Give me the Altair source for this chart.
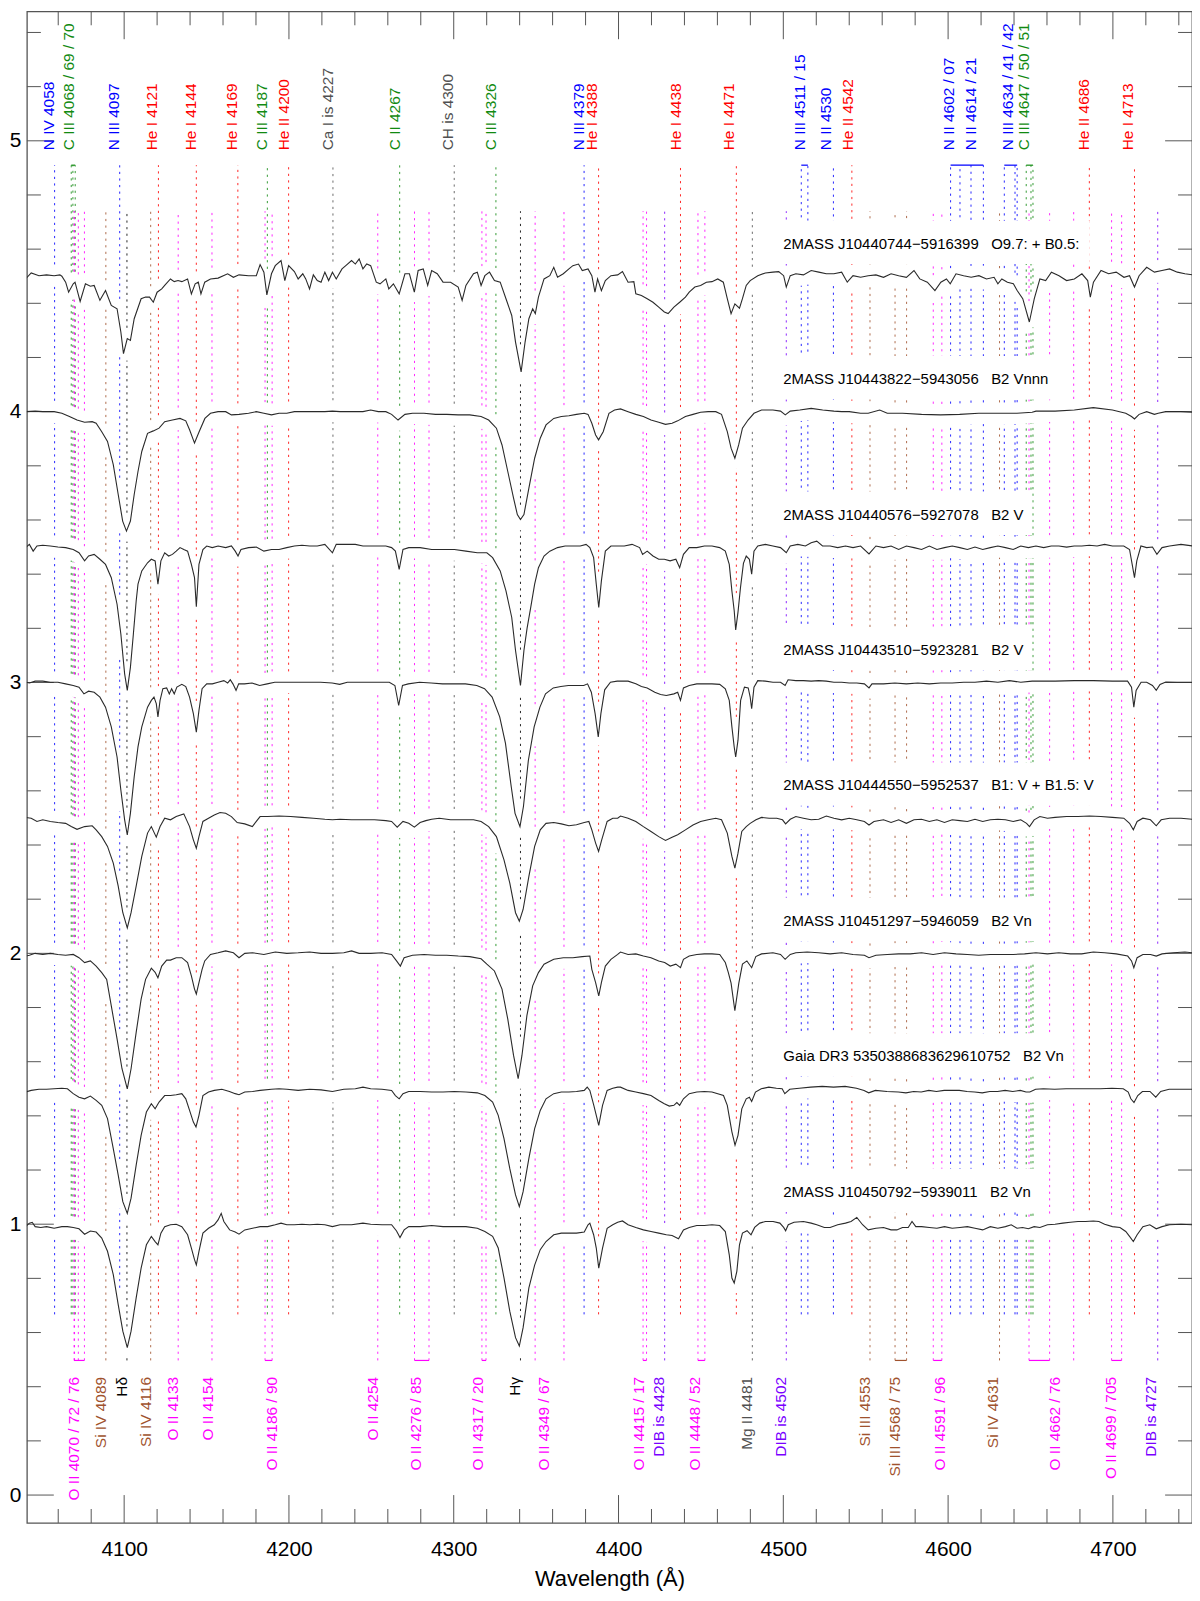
import altair as alt
import numpy as np
import pandas as pd

FONT = "Liberation Sans"

# ---------------- spectra: (wavelength in Å, normalised flux) ----------------
S1 = [(4040.2,0.990),(4043.6,1.012),(4048.3,1.002),(4052.9,1.005),(4057.5,1.002),(4061.0,1.005),(4062.2,1.000),(4064.5,0.978),(4066.3,0.941),(4069.1,0.972),(4070.2,0.978),(4073.3,0.907),(4076.5,0.972),(4079.5,0.963),(4081.8,0.966),(4085.3,0.911),(4088.7,0.947),(4092.2,0.892),(4095.7,0.880),(4098.0,0.794),(4099.6,0.714),(4101.9,0.770),(4103.8,0.763),(4106.1,0.843),(4110.3,0.917),(4113.0,0.923),(4115.4,0.923),(4117.7,0.904),(4120.0,0.941),(4122.8,0.953),(4124.6,0.966),(4128.1,0.990),(4130.4,0.980),(4132.7,0.984),(4135.0,0.980),(4138.5,0.990),(4140.8,0.935),(4143.1,0.972),(4145.0,0.978),(4146.6,0.935),(4148.9,0.978),(4152.4,0.990),(4157.0,0.993),(4162.8,1.009),(4166.3,0.996),(4169.7,1.005),(4175.5,1.002),(4180.2,1.002),(4182.5,1.043),(4184.8,1.015),(4186.6,0.931),(4189.4,1.009),(4191.7,1.039),(4195.2,1.058),(4197.5,0.984),(4199.8,1.039),(4203.3,1.017),(4205.6,0.990),(4208.4,1.009),(4210.2,0.990),(4212.5,0.953),(4214.8,1.005),(4217.2,0.984),(4219.5,0.978),(4221.8,1.015),(4224.1,0.984),(4226.4,1.015),(4228.7,0.990),(4232.2,1.027),(4234.5,1.039),(4238.0,1.058),(4240.3,1.045),(4242.6,1.064),(4244.9,1.027),(4247.2,1.045),(4249.6,1.039),(4253.0,0.978),(4255.3,0.972),(4258.8,0.990),(4260.6,0.953),(4263.4,0.972),(4266.9,0.935),(4270.4,1.009),(4273.1,1.009),(4276.1,0.941),(4278.4,1.021),(4281.5,1.027),(4284.2,0.966),(4286.6,1.021),(4290.0,1.009),(4293.5,0.978),(4298.1,0.978),(4302.7,0.960),(4305.1,0.911),(4307.4,0.966),(4312.0,1.009),(4314.3,1.015),(4316.6,0.966),(4318.9,1.002),(4321.7,1.015),(4324.7,0.984),(4328.2,0.978),(4331.7,0.917),(4335.2,0.855),(4337.5,0.757),(4340.9,0.647),(4343.3,0.757),(4345.6,0.843),(4347.9,0.880),(4349.5,0.862),(4351.4,0.923),(4354.8,0.990),(4358.3,1.002),(4360.7,1.033),(4363.0,0.996),(4366.5,1.009),(4369.9,1.027),(4372.3,1.039),(4375.7,1.045),(4378.0,1.021),(4381.5,1.027),(4383.8,1.002),(4385.7,0.941),(4387.3,0.990),(4389.6,0.947),(4392.0,0.984),(4395.4,1.002),(4399.5,1.005),
      (4402.4,1.017),(4405.8,0.978),(4409.3,0.980),(4410.5,0.935),(4413.9,0.929),(4417.4,0.917),(4420.9,0.904),(4424.4,0.886),(4427.8,0.868),(4430.1,0.862),(4433.6,0.886),(4437.1,0.904),(4440.6,0.923),(4442.9,0.941),(4446.3,0.960),(4449.8,0.966),(4453.3,0.978),(4456.7,0.980),(4460.2,0.990),(4463.6,0.978),(4466.0,0.917),(4468.3,0.862),(4470.6,0.898),(4473.4,0.882),(4475.2,0.917),(4477.5,0.966),(4479.9,0.984),(4484.5,1.002),(4489.1,1.012),(4493.7,1.015),(4497.2,1.017),(4500.2,1.002),(4501.8,0.960),(4504.2,1.002),(4507.6,1.009),(4512.2,1.005),(4516.9,1.021),(4521.5,1.015),(4526.1,1.009),(4530.7,1.009),(4535.4,1.015),(4538.8,0.978),(4542.3,1.002),(4546.9,0.996),(4551.5,1.002),(4556.2,1.005),(4560.8,0.996),(4565.4,1.009),(4570.0,1.002),(4574.7,0.996),(4579.3,1.021),(4582.8,0.990),(4587.4,0.978),(4592.0,0.947),(4595.6,0.978),(4599.0,0.990),(4601.3,0.972),(4604.8,1.009),(4609.4,1.002),(4614.0,0.996),(4618.7,1.002),(4623.3,0.990),(4627.9,0.996),(4630.2,0.972),(4632.6,0.990),(4636.0,0.978),(4639.6,0.972),(4641.9,0.947),(4645.3,0.917),(4649.3,0.831),(4652.3,0.917),(4655.7,0.990),(4659.2,0.984),(4662.7,1.015),(4667.3,1.002),(4671.9,0.984),(4676.6,0.990),(4681.2,1.009),(4684.7,0.984),(4686.3,0.923),(4688.2,0.978),(4692.8,1.021),(4697.4,1.009),(4702.0,1.015),(4706.7,0.996),(4710.1,1.002),(4713.1,0.960),(4715.9,1.002),(4720.5,1.033),(4725.2,1.015),(4729.8,1.021),(4734.4,1.027),(4739.1,1.015),(4743.7,1.009),(4748.3,1.005)]

S2 = [(4040.2,1.000),(4046.0,1.002),(4050.6,1.000),(4057.5,1.000),(4062.2,0.994),(4066.8,0.982),(4071.4,0.969),(4076.0,0.961),(4080.6,0.963),(4083.0,0.957),(4086.4,0.926),(4089.9,0.890),(4093.4,0.804),(4096.4,0.694),(4099.1,0.596),(4101.4,0.559),(4103.8,0.596),(4106.1,0.694),(4108.4,0.779),(4110.7,0.853),(4114.2,0.920),(4117.7,0.929),(4121.2,0.939),(4124.6,0.963),(4129.3,0.969),(4133.9,0.975),(4137.4,0.966),(4139.7,0.933),(4142.7,0.884),(4145.5,0.926),(4149.0,0.975),(4152.4,0.994),(4157.0,1.000),(4161.6,1.000),(4165.1,0.988),(4169.7,0.990),(4175.5,0.994),(4180.2,1.000),(4184.8,0.994),(4189.4,0.988),(4194.0,0.994),(4198.7,0.994),(4203.3,1.000),(4210.2,1.000),(4217.2,1.000),(4221.8,1.000),(4226.4,1.002),(4231.0,1.000),(4238.0,1.000),(4244.9,1.000),(4249.6,1.006),(4254.2,1.000),(4258.8,1.000),(4262.3,0.990),(4266.2,0.969),(4270.4,0.990),(4275.0,0.994),(4281.9,0.994),(4288.9,0.990),(4295.8,0.990),(4302.7,0.988),(4309.7,0.988),(4316.6,0.982),(4321.2,0.969),(4325.9,0.939),(4329.3,0.877),(4332.8,0.779),(4336.3,0.681),(4338.6,0.620),(4340.5,0.602),(4342.6,0.620),(4345.6,0.718),(4349.1,0.828),(4352.5,0.902),(4356.0,0.951),(4360.7,0.975),(4365.3,0.982),(4369.9,0.985),(4374.5,0.990),(4379.2,0.994),(4381.5,0.990),(4383.8,0.957),(4386.1,0.914),(4387.9,0.896),(4390.7,0.926),(4394.2,0.994),(4397.6,1.006),
      (4401.2,1.010),(4405.8,1.000),(4410.5,0.990),(4415.1,0.982),(4419.7,0.969),(4424.4,0.961),(4428.5,0.953),(4432.5,0.957),(4435.9,0.966),(4440.6,0.982),(4445.2,0.990),(4449.8,0.998),(4454.4,1.000),(4459.0,1.000),(4462.5,0.990),(4466.0,0.926),(4468.3,0.865),(4470.6,0.828),(4472.9,0.877),(4475.2,0.939),(4478.6,0.969),(4482.2,0.994),(4486.8,1.006),(4493.7,1.006),(4498.3,1.002),(4501.2,0.988),(4504.2,1.002),(4510.0,1.006),(4516.9,1.012),(4523.9,1.006),(4530.7,1.002),(4535.4,1.000),(4540.0,1.000),(4546.9,0.994),(4551.5,0.994),(4558.5,1.006),(4563.1,0.994),(4572.3,0.994),(4583.9,0.990),(4595.4,0.988),(4607.0,0.990),(4618.6,0.994),(4630.2,0.994),(4641.8,0.994),(4651.0,0.998),(4653.3,1.002),(4664.9,1.002),(4676.6,1.006),(4688.1,1.015),(4699.7,1.006),(4707.8,0.994),(4711.3,0.982),(4713.1,0.973),(4715.9,0.990),(4720.5,1.000),(4725.2,0.990),(4727.5,0.994),(4732.1,1.000),(4741.3,1.000),(4748.3,0.998)]

S3 = [(4040.2,0.998),(4042.5,1.010),(4044.8,0.985),(4047.1,1.004),(4050.6,1.007),(4055.2,1.004),(4059.8,1.000),(4064.5,0.998),(4069.1,0.991),(4072.6,0.979),(4076.0,0.949),(4078.4,0.967),(4081.8,0.973),(4085.3,0.955),(4088.7,0.936),(4092.2,0.887),(4095.7,0.789),(4098.0,0.679),(4100.3,0.532),(4101.9,0.471),(4103.8,0.556),(4105.6,0.679),(4107.3,0.801),(4108.4,0.863),(4110.7,0.912),(4114.2,0.942),(4116.5,0.955),(4118.8,0.949),(4120.5,0.863),(4122.3,0.949),(4124.6,0.979),(4127.0,0.967),(4129.3,0.973),(4131.6,0.985),(4133.9,0.998),(4136.2,0.991),(4138.5,0.985),(4140.8,0.936),(4142.7,0.887),(4143.8,0.780),(4145.4,0.936),(4147.8,0.991),(4150.1,1.004),(4153.5,0.998),(4157.0,1.004),(4161.6,0.998),(4165.1,1.004),(4167.4,0.985),(4169.1,0.967),(4170.9,0.991),(4175.5,0.998),(4180.2,1.000),(4184.8,0.985),(4189.4,0.991),(4194.0,0.991),(4198.7,0.998),(4203.3,1.004),(4207.9,1.007),(4212.6,1.004),(4217.2,1.004),(4221.8,1.010),(4226.4,0.979),(4228.7,1.010),(4235.7,1.010),(4240.3,1.010),(4244.9,1.004),(4249.6,1.004),(4254.2,1.004),(4258.8,1.004),(4262.3,0.998),(4264.6,0.985),(4266.9,0.918),(4269.2,0.991),(4272.7,0.998),(4279.6,0.998),(4286.6,0.991),(4293.5,0.991),(4300.4,0.991),(4307.4,0.985),(4314.3,0.979),(4320.1,0.979),(4323.6,0.961),(4328.2,0.912),(4331.7,0.838),(4335.2,0.740),(4337.5,0.618),(4340.5,0.489),(4342.6,0.618),(4344.5,0.700),(4346.8,0.780),(4349.1,0.863),(4351.4,0.924),(4354.8,0.967),(4358.3,0.985),(4363.0,0.998),(4367.6,1.004),(4376.8,1.004),(4380.3,1.010),(4382.6,0.998),(4384.9,0.961),(4386.5,0.863),(4388.0,0.777),(4389.6,0.875),(4392.0,0.985),(4395.4,1.004),(4399.5,1.004),
      (4403.5,1.004),(4408.2,1.010),(4412.8,0.998),(4414.6,0.973),(4417.4,0.985),(4420.9,0.967),(4424.4,0.955),(4427.8,0.955),(4431.3,0.949),(4434.8,0.955),(4437.1,0.924),(4439.4,0.973),(4442.9,0.998),(4447.5,0.998),(4452.1,1.004),(4456.7,1.004),(4461.4,0.998),(4464.8,0.985),(4467.2,0.936),(4468.8,0.838),(4470.2,0.765),(4471.1,0.694),(4472.5,0.760),(4474.0,0.850),(4475.8,0.940),(4477.5,0.967),(4479.4,0.955),(4480.8,0.900),(4482.2,0.985),(4484.5,1.004),(4489.1,1.010),(4493.7,1.004),(4498.3,0.998),(4501.8,0.979),(4504.2,1.004),(4508.8,1.010),(4513.4,1.004),(4516.9,1.016),(4520.3,1.022),(4523.8,1.004),(4528.4,1.004),(4533.0,0.998),(4537.7,1.004),(4542.3,0.998),(4546.9,1.004),(4552.0,0.975),(4556.2,1.004),(4560.8,0.998),(4565.4,1.004),(4570.0,0.991),(4574.7,1.004),(4579.3,0.998),(4583.9,0.991),(4588.6,1.004),(4593.2,0.991),(4597.8,0.998),(4602.5,1.004),(4607.1,0.998),(4611.7,0.991),(4616.3,1.000),(4621.0,0.991),(4625.6,0.998),(4630.2,1.004),(4634.8,0.998),(4639.5,0.991),(4644.1,1.004),(4648.7,0.998),(4653.3,1.004),(4658.0,0.998),(4662.6,1.004),(4667.2,1.004),(4671.9,1.000),(4676.5,1.004),(4681.1,1.004),(4685.7,1.007),(4690.4,1.004),(4695.0,1.010),(4699.7,1.004),(4706.6,1.004),(4710.1,0.991),(4711.7,0.936),(4713.1,0.887),(4714.5,0.949),(4717.0,1.004),(4720.5,0.998),(4724.0,1.000),(4726.7,0.973),(4729.8,0.998),(4734.4,1.004),(4741.3,1.010),(4748.3,1.004)]

S4 = [(4040.2,1.001),(4042.5,0.998),(4046.0,1.005),(4050.6,1.005),(4055.2,1.001),(4059.8,1.001),(4064.5,0.995),(4069.1,0.989),(4072.6,0.983),(4075.6,0.958),(4078.4,0.968),(4081.8,0.964),(4085.3,0.946),(4088.7,0.909),(4092.2,0.836),(4095.7,0.725),(4098.0,0.603),(4100.3,0.493),(4101.9,0.437),(4103.8,0.517),(4106.1,0.652),(4108.4,0.762),(4110.7,0.836),(4114.2,0.909),(4116.5,0.934),(4118.1,0.946),(4119.5,0.922),(4120.5,0.873),(4121.8,0.934),(4123.5,0.977),(4125.8,0.980),(4127.4,0.958),(4128.8,0.977),(4130.4,0.958),(4132.0,0.983),(4135.0,0.993),(4137.4,0.985),(4139.7,0.946),(4142.0,0.885),(4143.8,0.817),(4145.4,0.897),(4147.3,0.977),(4150.1,0.995),(4153.5,0.995),(4157.0,1.001),(4160.5,1.007),(4162.8,0.998),(4164.4,1.010),(4166.0,0.995),(4167.9,0.971),(4169.5,0.995),(4173.0,0.995),(4177.6,0.998),(4182.2,0.989),(4186.8,0.995),(4191.4,1.001),(4198.4,1.001),(4205.4,1.001),(4212.3,1.001),(4219.2,1.001),(4226.2,0.998),(4230.8,0.993),(4235.4,1.001),(4242.4,1.001),(4249.3,1.001),(4256.2,1.001),(4260.9,1.001),(4264.3,0.989),(4266.6,0.915),(4268.9,0.989),(4272.4,0.995),(4279.3,1.001),(4286.3,0.998),(4293.2,0.995),(4300.2,0.995),(4307.1,0.995),(4314.0,0.989),(4318.7,0.977),(4323.3,0.946),(4327.9,0.873),(4331.4,0.775),(4334.9,0.615),(4337.2,0.517),(4340.2,0.468),(4342.3,0.542),(4345.3,0.713),(4348.8,0.836),(4352.3,0.909),(4355.7,0.958),(4360.4,0.980),(4365.0,0.985),(4369.6,0.989),(4374.2,0.989),(4378.9,0.989),(4381.2,0.995),(4383.5,0.964),(4385.8,0.885),(4387.7,0.799),(4389.3,0.885),(4391.6,0.973),(4395.1,1.001),(4399.2,1.005),
      (4401.2,1.005),(4405.8,1.005),(4410.5,0.995),(4413.9,0.985),(4417.4,0.980),(4422.0,0.964),(4425.5,0.956),(4429.0,0.952),(4433.6,0.958),(4435.9,0.964),(4437.6,0.934),(4439.4,0.980),(4442.9,0.989),(4447.5,0.995),(4452.1,0.995),(4456.7,0.995),(4461.4,0.993),(4464.8,0.977),(4467.2,0.934),(4468.8,0.836),(4470.2,0.762),(4471.1,0.725),(4472.5,0.787),(4474.1,0.934),(4476.4,0.983),(4478.7,0.980),(4479.9,0.946),(4480.8,0.903),(4482.2,0.983),(4484.5,1.007),(4489.1,1.005),(4493.7,1.001),(4498.3,1.001),(4501.1,0.989),(4502.9,1.010),(4507.6,1.007),(4512.2,1.007),(4516.9,1.005),(4521.5,1.007),(4526.1,1.005),(4530.7,1.001),(4535.4,1.001),(4540.0,0.998),(4544.6,0.998),(4549.2,0.995),(4552.0,0.980),(4553.8,0.995),(4560.8,0.995),(4567.7,0.998),(4574.7,0.995),(4581.6,0.998),(4588.6,0.995),(4595.5,0.998),(4602.5,0.998),(4609.4,1.001),(4616.3,1.001),(4623.3,1.005),(4630.2,1.001),(4637.2,1.007),(4644.1,1.001),(4651.0,1.005),(4658.0,1.005),(4665.0,1.005),(4676.5,1.007),(4688.1,1.007),(4699.7,1.005),(4708.9,1.005),(4711.3,0.983),(4712.7,0.909),(4714.1,0.971),(4717.1,1.001),(4720.5,1.001),(4724.0,0.989),(4726.3,0.971),(4728.6,0.993),(4732.1,1.002),(4739.0,1.001),(4748.3,1.001)]

S5 = [(4040.2,1.002),(4043.6,0.999),(4047.1,0.987),(4050.6,0.993),(4055.2,0.987),(4059.8,0.983),(4064.5,0.980),(4067.9,0.968),(4071.4,0.958),(4076.0,0.968),(4080.6,0.971),(4083.0,0.956),(4086.4,0.931),(4089.9,0.895),(4093.4,0.833),(4096.4,0.748),(4099.2,0.650),(4101.9,0.594),(4104.2,0.650),(4107.3,0.748),(4110.7,0.858),(4114.2,0.944),(4116.5,0.968),(4119.5,0.929),(4121.8,0.968),(4124.6,0.999),(4128.1,0.993),(4131.6,1.005),(4136.2,1.015),(4139.7,0.968),(4142.0,0.919),(4143.8,0.888),(4145.4,0.931),(4147.8,0.987),(4151.2,0.999),(4154.7,1.011),(4158.2,1.020),(4161.6,1.017),(4165.1,1.005),(4168.6,0.983),(4173.2,0.978),(4177.8,0.968),(4180.2,0.987),(4182.5,1.005),(4187.1,1.005),(4194.0,1.007),(4201.0,1.005),(4207.9,1.002),(4214.9,0.999),(4221.8,0.995),(4226.4,0.993),(4231.0,0.995),(4238.0,0.993),(4244.9,0.993),(4251.9,0.993),(4258.8,0.990),(4262.3,0.987),(4265.7,0.966),(4269.2,0.987),(4272.7,0.980),(4276.1,0.966),(4279.6,0.983),(4283.1,0.990),(4286.6,0.995),(4291.2,0.999),(4298.1,0.993),(4305.1,0.993),(4312.0,0.993),(4316.6,0.987),(4321.2,0.968),(4325.9,0.931),(4330.5,0.845),(4334.0,0.760),(4337.5,0.650),(4339.8,0.619),(4342.1,0.662),(4345.6,0.784),(4349.1,0.895),(4352.5,0.956),(4356.0,0.980),(4360.7,0.983),(4365.3,0.978),(4369.9,0.971),(4374.5,0.975),(4379.2,0.983),(4382.0,0.987),(4383.8,0.956),(4386.1,0.907),(4387.9,0.876),(4389.8,0.919),(4393.1,0.987),(4396.5,0.999),(4399.5,0.999),
      (4401.2,1.007),(4405.8,0.999),(4410.5,0.987),(4415.1,0.968),(4419.7,0.950),(4424.4,0.931),(4428.5,0.917),(4432.5,0.929),(4435.9,0.938),(4440.6,0.956),(4445.2,0.974),(4449.8,0.987),(4454.4,0.993),(4459.0,0.999),(4462.5,0.993),(4466.0,0.944),(4468.8,0.858),(4470.6,0.815),(4472.5,0.870),(4474.8,0.950),(4477.5,0.968),(4479.9,0.980),(4483.4,0.993),(4486.8,1.002),(4491.4,0.999),(4496.0,0.999),(4499.5,0.993),(4501.4,0.978),(4504.2,0.995),(4507.6,1.005),(4512.2,0.999),(4516.9,0.993),(4521.5,0.995),(4526.1,1.007),(4530.7,0.999),(4535.4,0.993),(4540.0,0.999),(4544.6,0.993),(4549.2,0.987),(4552.0,0.974),(4555.0,0.987),(4560.8,0.993),(4565.4,0.983),(4570.0,0.993),(4574.7,0.980),(4579.3,0.993),(4583.9,0.995),(4588.6,0.987),(4593.2,0.993),(4597.8,0.983),(4602.5,0.993),(4607.1,0.990),(4611.7,0.987),(4616.3,0.995),(4621.0,0.987),(4625.6,0.993),(4630.2,0.995),(4634.8,0.993),(4639.5,0.987),(4644.1,0.993),(4647.6,0.980),(4649.4,0.968),(4652.2,0.993),(4655.7,1.005),(4660.3,0.999),(4664.9,1.002),(4671.9,1.005),(4678.8,1.005),(4685.8,1.007),(4692.7,1.005),(4699.7,1.002),(4706.6,0.999),(4710.1,0.980),(4712.4,0.956),(4714.7,0.987),(4718.2,0.999),(4722.8,0.993),(4726.3,0.971),(4729.3,0.993),(4734.4,0.999),(4741.3,0.999),(4748.3,0.995)]

S6 = [(4040.2,0.990),(4042.5,0.993),(4046.0,1.000),(4050.6,0.996),(4055.2,1.000),(4059.8,0.996),(4064.5,0.993),(4069.1,0.996),(4072.6,0.984),(4076.0,0.966),(4079.5,0.972),(4083.0,0.953),(4086.4,0.929),(4089.4,0.904),(4092.2,0.806),(4095.7,0.684),(4098.7,0.574),(4101.9,0.500),(4104.2,0.574),(4107.3,0.708),(4110.3,0.831),(4113.0,0.904),(4116.5,0.945),(4118.8,0.930),(4120.5,0.910),(4122.8,0.953),(4125.8,0.975),(4128.1,0.975),(4131.6,0.984),(4135.0,0.984),(4138.5,0.966),(4140.8,0.917),(4142.7,0.868),(4143.8,0.850),(4145.4,0.892),(4147.3,0.941),(4148.9,0.972),(4152.4,0.996),(4157.0,1.002),(4161.6,1.009),(4166.3,1.002),(4169.7,0.984),(4173.2,1.000),(4177.9,1.002),(4184.8,0.996),(4191.7,1.005),(4198.7,1.000),(4205.6,1.002),(4212.6,1.005),(4219.5,1.000),(4226.4,1.000),(4233.3,1.002),(4238.0,1.009),(4242.6,1.000),(4249.6,1.000),(4256.5,1.002),(4262.3,0.996),(4265.3,0.972),(4267.6,0.953),(4269.9,0.984),(4275.0,0.993),(4282.0,0.996),(4288.9,0.993),(4295.8,0.993),(4302.8,0.990),(4309.7,0.988),(4316.6,0.980),(4320.1,0.960),(4324.7,0.935),(4329.3,0.868),(4332.8,0.757),(4336.3,0.623),(4339.1,0.537),(4341.4,0.623),(4344.4,0.770),(4347.9,0.880),(4351.4,0.929),(4354.8,0.960),(4360.7,0.978),(4366.5,0.984),(4372.3,0.984),(4378.0,0.988),(4382.6,0.990),(4383.8,0.941),(4386.1,0.892),(4388.0,0.843),(4389.6,0.892),(4392.0,0.953),(4395.4,0.978),(4399.5,0.996),
      (4401.2,1.005),(4405.8,0.996),(4410.5,0.998),(4415.1,0.990),(4419.7,0.984),(4424.4,0.972),(4428.0,0.966),(4431.4,0.953),(4434.8,0.960),(4437.6,0.947),(4439.4,0.978),(4442.9,0.990),(4447.5,0.996),(4452.1,0.998),(4456.7,0.998),(4461.4,0.996),(4464.8,0.966),(4466.6,0.930),(4468.3,0.890),(4470.6,0.788),(4473.0,0.890),(4475.2,0.960),(4477.9,0.972),(4480.8,0.947),(4483.3,0.988),(4486.8,0.998),(4493.7,1.002),(4498.3,0.996),(4501.1,0.978),(4504.2,0.996),(4507.6,1.002),(4514.5,1.005),(4521.5,1.002),(4528.4,0.998),(4535.4,1.002),(4542.3,0.996),(4549.2,0.993),(4552.0,0.984),(4556.2,0.993),(4563.1,0.996),(4570.0,0.998),(4577.0,0.998),(4583.9,1.002),(4590.9,0.996),(4597.8,1.002),(4604.8,0.998),(4611.7,0.996),(4618.6,0.993),(4625.6,0.996),(4632.5,0.996),(4639.5,0.996),(4646.4,0.998),(4653.3,1.002),(4660.3,0.998),(4667.2,1.002),(4674.2,0.998),(4681.1,0.998),(4688.1,1.005),(4695.0,1.002),(4702.0,0.998),(4709.0,0.990),(4711.3,0.972),(4712.7,0.947),(4714.7,0.984),(4718.2,0.996),(4722.8,0.996),(4726.3,0.990),(4729.8,0.998),(4736.7,1.002),(4743.7,1.005),(4748.3,1.002)]

S7 = [(4040.2,0.988),(4043.6,0.994),(4048.3,0.998),(4052.9,0.998),(4057.5,1.000),(4062.2,1.002),(4065.6,1.000),(4069.1,0.982),(4072.6,0.969),(4076.0,0.963),(4079.5,0.973),(4083.0,0.957),(4086.4,0.939),(4089.9,0.890),(4093.4,0.779),(4096.4,0.681),(4099.2,0.583),(4101.9,0.540),(4104.2,0.596),(4107.3,0.718),(4110.3,0.828),(4113.5,0.914),(4116.5,0.945),(4118.8,0.926),(4121.2,0.951),(4124.6,0.975),(4128.1,0.975),(4131.6,0.978),(4135.0,0.982),(4137.4,0.963),(4139.7,0.920),(4142.0,0.877),(4143.6,0.859),(4145.4,0.902),(4147.8,0.975),(4151.2,0.988),(4154.7,0.994),(4159.3,0.998),(4163.9,0.990),(4167.4,0.982),(4169.7,0.978),(4173.2,0.988),(4177.9,0.990),(4182.5,0.994),(4189.4,0.998),(4194.0,1.000),(4198.7,0.998),(4205.6,0.994),(4212.6,0.998),(4219.5,0.996),(4226.4,0.990),(4233.3,0.998),(4240.3,1.000),(4244.9,1.006),(4249.6,1.000),(4256.5,0.998),(4262.3,0.994),(4264.6,0.975),(4266.9,0.963),(4269.2,0.982),(4272.7,0.990),(4279.6,0.990),(4286.6,0.988),(4293.5,0.988),(4300.4,0.990),(4307.4,0.988),(4314.3,0.985),(4318.9,0.975),(4323.6,0.951),(4327.0,0.902),(4330.5,0.816),(4334.0,0.706),(4337.5,0.608),(4339.8,0.565),(4342.1,0.620),(4345.6,0.743),(4349.1,0.853),(4352.5,0.920),(4356.0,0.963),(4360.7,0.982),(4365.3,0.988),(4369.9,0.988),(4374.5,0.990),(4379.2,0.994),(4381.0,1.006),(4382.6,0.994),(4385.0,0.939),(4388.0,0.865),(4390.3,0.939),(4393.1,0.994),(4396.5,1.002),(4399.5,1.006),
      (4401.2,1.006),(4405.8,0.994),(4410.5,0.988),(4415.1,0.982),(4419.7,0.975),(4424.4,0.957),(4427.8,0.945),(4430.8,0.936),(4433.6,0.939),(4435.4,0.949),(4437.1,0.939),(4439.4,0.963),(4442.9,0.982),(4447.5,0.988),(4452.1,0.990),(4456.7,0.988),(4463.7,0.975),(4466.0,0.939),(4468.8,0.841),(4470.7,0.792),(4472.5,0.828),(4474.8,0.926),(4477.5,0.963),(4479.4,0.969),(4480.8,0.953),(4483.1,0.988),(4486.6,1.000),(4491.2,1.006),(4495.8,1.002),(4499.3,1.000),(4500.9,0.982),(4503.9,0.998),(4509.7,1.002),(4516.6,1.006),(4523.6,1.009),(4530.5,1.006),(4537.5,1.009),(4544.4,1.002),(4549.0,0.994),(4551.8,0.985),(4555.9,0.994),(4562.9,0.990),(4569.8,0.988),(4574.4,0.985),(4579.1,0.990),(4583.7,0.988),(4588.3,0.994),(4592.9,0.990),(4597.6,0.994),(4602.2,0.994),(4606.8,0.994),(4611.5,0.990),(4616.1,0.988),(4620.7,0.985),(4625.3,0.990),(4630.0,0.990),(4634.6,0.994),(4639.2,0.990),(4643.8,0.994),(4647.3,0.988),(4649.6,0.988),(4653.1,0.998),(4657.8,1.000),(4664.7,0.998),(4671.6,1.000),(4678.6,1.000),(4685.5,1.000),(4692.4,1.000),(4699.4,1.002),(4706.3,1.000),(4709.3,0.988),(4710.9,0.963),(4712.8,0.949),(4715.1,0.975),(4717.9,0.990),(4722.5,0.990),(4726.0,0.969),(4729.0,0.990),(4734.1,0.998),(4741.1,0.998),(4748.0,0.998)]

S8 = [(4040.2,0.991),(4042.5,1.004),(4044.2,1.007),(4046.0,0.991),(4049.4,0.988),(4052.9,0.991),(4057.5,0.985),(4062.2,0.991),(4065.6,0.991),(4069.1,0.988),(4072.6,0.983),(4076.0,0.963),(4079.5,0.975),(4083.0,0.971),(4086.4,0.949),(4089.9,0.900),(4093.4,0.814),(4096.4,0.703),(4099.2,0.605),(4101.9,0.544),(4104.2,0.605),(4107.3,0.728),(4110.3,0.838),(4113.5,0.924),(4116.5,0.955),(4118.8,0.936),(4120.5,0.924),(4122.3,0.967),(4124.6,0.991),(4128.1,0.998),(4131.6,1.000),(4135.0,0.991),(4138.5,0.961),(4140.8,0.912),(4142.7,0.869),(4143.8,0.850),(4145.4,0.900),(4147.8,0.967),(4151.2,0.985),(4154.7,0.998),(4157.0,1.016),(4158.9,1.040),(4160.5,1.010),(4164.0,0.979),(4167.4,0.971),(4169.7,0.963),(4173.2,0.979),(4177.9,0.985),(4182.5,0.991),(4187.1,0.991),(4191.7,0.998),(4195.2,1.004),(4198.7,0.998),(4203.3,0.998),(4207.9,1.000),(4212.6,0.998),(4217.2,1.000),(4221.8,0.998),(4226.4,0.991),(4231.0,0.998),(4238.0,0.998),(4244.9,1.004),(4249.6,1.000),(4256.5,0.998),(4262.3,0.998),(4265.3,0.975),(4267.4,0.951),(4269.9,0.979),(4272.7,0.991),(4279.6,0.991),(4286.6,0.995),(4293.5,0.991),(4300.4,0.991),(4307.4,0.991),(4314.3,0.985),(4318.9,0.973),(4323.6,0.955),(4327.0,0.912),(4330.5,0.802),(4334.0,0.679),(4337.5,0.581),(4339.8,0.550),(4342.1,0.618),(4345.6,0.765),(4349.1,0.849),(4352.5,0.906),(4356.0,0.936),(4360.7,0.961),(4365.3,0.967),(4369.9,0.967),(4374.5,0.967),(4379.2,0.971),(4381.5,0.998),(4382.6,1.004),(4384.9,0.961),(4386.5,0.912),(4388.0,0.838),(4390.3,0.912),(4393.1,0.985),(4396.5,0.998),(4399.5,1.007),
      (4402.4,1.012),(4405.8,0.998),(4410.5,0.988),(4415.1,0.979),(4419.7,0.973),(4424.4,0.967),(4429.0,0.961),(4432.5,0.958),(4436.4,0.946),(4439.4,0.979),(4442.9,0.988),(4447.5,0.995),(4452.1,0.995),(4456.7,0.998),(4461.4,0.995),(4464.8,0.973),(4467.2,0.887),(4468.8,0.801),(4470.2,0.783),(4471.8,0.826),(4473.4,0.924),(4475.2,0.967),(4478.0,0.976),(4480.4,0.961),(4482.6,0.988),(4485.7,1.004),(4489.1,1.010),(4493.8,1.010),(4497.9,1.004),(4500.2,0.988),(4501.4,0.976),(4503.0,0.998),(4506.5,1.007),(4512.2,1.010),(4516.9,1.004),(4520.3,0.998),(4524.9,0.988),(4528.4,0.988),(4533.0,0.998),(4537.7,1.004),(4541.1,1.010),(4544.6,1.025),(4548.1,0.998),(4551.5,0.979),(4556.2,0.985),(4560.8,0.988),(4565.4,0.979),(4568.9,0.979),(4572.3,0.988),(4575.8,0.988),(4578.1,1.010),(4580.4,0.991),(4583.9,0.991),(4588.6,0.988),(4593.2,0.985),(4597.8,0.991),(4602.5,0.985),(4607.1,0.988),(4611.7,0.991),(4616.3,0.985),(4621.0,0.979),(4625.6,0.991),(4630.2,0.985),(4634.8,0.991),(4638.3,0.998),(4641.8,0.985),(4645.2,0.988),(4648.7,0.983),(4652.2,0.991),(4655.7,0.988),(4660.3,0.998),(4664.9,1.000),(4669.6,1.004),(4674.2,1.007),(4678.8,1.010),(4683.4,1.010),(4688.1,1.012),(4691.5,1.010),(4695.0,1.000),(4699.7,0.991),(4704.3,0.988),(4707.8,0.973),(4710.1,0.955),(4712.4,0.936),(4714.7,0.961),(4718.2,0.991),(4722.4,0.998),(4726.3,0.983),(4729.8,0.991),(4734.4,0.998),(4741.3,1.000),(4748.3,0.998)]

SPECTRA = [S1, S2, S3, S4, S5, S6, S7, S8]
OFFSETS = [3.5, 3.0, 2.5, 2.0, 1.5, 1.0, 0.5, 0.0]

STAR_NAMES = ["2MASS J10440744\u22125916399", "2MASS J10443822\u22125943056",
              "2MASS J10440576\u22125927078", "2MASS J10443510\u22125923281",
              "2MASS J10444550\u22125952537", "2MASS J10451297\u22125946059",
              "Gaia DR3 5350388683629610752", "2MASS J10450792\u22125939011"]
STAR_TYPES = ["O9.7: + B0.5:", "B2 Vnnn", "B2 V", "B2 V", "B1: V + B1.5: V",
              "B2 Vn", "B2 Vn", "B2 Vn"]
STAR_LABEL_X = 4500.0
STAR_LABEL_END = [4685, 4665, 4650, 4650, 4694, 4655, 4675, 4655]

# ---------------- line identifications ----------------
BLUE, RED, GREEN, GRAY = "#0000ff", "#ff0000", "#118a11", "#505050"
MAGENTA, BROWN, VIOLET, BLACK = "#ff00ff", "#a0522d", "#7a00ff", "#000000"

TOP_IDS = [
    ("N IV 4058", BLUE, [4057.8], 4057.7),
    ("C III 4068 / 69 / 70", GREEN, [4067.9, 4068.9, 4070.3], 4069.3),
    ("N III 4097", BLUE, [4097.3], 4096.6),
    ("He I 4121", RED, [4120.8], 4120.2),
    ("He I 4144", RED, [4143.8], 4143.3),
    ("He I 4169", RED, [4169.0], 4168.7),
    ("C III 4187", GREEN, [4186.9], 4186.8),
    ("He II 4200", RED, [4199.8], 4200.0),
    ("Ca I is 4227", GRAY, [4226.7], 4226.6),
    ("C II 4267", GREEN, [4267.2], 4267.1),
    ("CH is 4300", GRAY, [4300.3], 4299.5),
    ("C III 4326", GREEN, [4325.6], 4325.6),
    ("N III 4379", BLUE, [4379.1], 4379.3),
    ("He I 4388", RED, [4387.9], 4386.8),
    ("He I 4438", RED, [4437.6], 4437.8),
    ("He I 4471", RED, [4471.5], 4470.2),
    ("N III 4511 / 15", BLUE, [4510.9, 4514.9], 4513.0),
    ("N II 4530", BLUE, [4530.4], 4529.2),
    ("He II 4542", RED, [4541.6], 4542.0),
    ("N II 4602 / 07", BLUE, [4601.5, 4607.2], 4603.7),
    ("N II 4614 / 21", BLUE, [4613.9, 4621.4], 4616.7),
    ("N III 4634 / 41 / 42", BLUE, [4634.1, 4640.6, 4641.9], 4639.1),
    ("C III 4647 / 50 / 51", GREEN, [4647.4, 4650.3, 4651.5], 4649.1),
    ("He II 4686", RED, [4685.7], 4685.4),
    ("He I 4713", RED, [4713.1], 4712.5),
]
BOTTOM_IDS = [
    ("O II 4070 / 72 / 76", MAGENTA, [4069.6, 4069.9, 4072.2, 4075.9], 4072.7),
    ("Si IV 4089", BROWN, [4088.9], 4088.9),
    ("H\u03b4", BLACK, [4101.7], 4101.7),
    ("Si IV 4116", BROWN, [4116.1], 4116.0),
    ("O II 4133", MAGENTA, [4132.8], 4132.9),
    ("O II 4154", MAGENTA, [4153.3], 4153.7),
    ("O II 4186 / 90", MAGENTA, [4185.5, 4189.8], 4193.0),
    ("O II 4254", MAGENTA, [4253.9], 4253.9),
    ("O II 4276 / 85", MAGENTA, [4276.2, 4285.0], 4280.3),
    ("O II 4317 / 20", MAGENTA, [4317.1, 4319.6], 4318.0),
    ("H\u03b3", BLACK, [4340.5], 4340.0),
    ("O II 4349 / 67", MAGENTA, [4349.4, 4366.9], 4358.0),
    ("O II 4415 / 17", MAGENTA, [4414.9, 4417.0], 4415.4),
    ("DIB is 4428", VIOLET, [4428.0], 4427.4),
    ("O II 4448 / 52", MAGENTA, [4448.2, 4452.4], 4449.4),
    ("Mg II 4481", GRAY, [4481.2], 4480.7),
    ("DIB is 4502", VIOLET, [4501.8], 4501.5),
    ("Si III 4553", BROWN, [4552.6], 4552.4),
    ("Si III 4568 / 75", BROWN, [4567.8, 4574.8], 4570.9),
    ("O II 4591 / 96", MAGENTA, [4591.0, 4596.2], 4598.0),
    ("Si IV 4631", BROWN, [4631.2], 4630.5),
    ("O II 4662 / 76", MAGENTA, [4649.1, 4661.6, 4676.2], 4668.0),
    ("O II 4699 / 705", MAGENTA, [4699.2, 4705.3], 4701.6),
    ("DIB is 4727", VIOLET, [4727.2], 4726.4),
]
TOP_BRACKETS = [(4067.9, 4070.3, GREEN), (4510.9, 4514.9, BLUE), (4601.5, 4621.4, BLUE),
                (4634.1, 4641.9, BLUE), (4647.4, 4651.5, GREEN)]
BOTTOM_BRACKETS = [(4069.6, 4075.9, MAGENTA), (4185.5, 4189.8, MAGENTA), (4276.2, 4285.0, MAGENTA),
                   (4317.1, 4319.6, MAGENTA), (4414.9, 4417.0, MAGENTA), (4448.2, 4452.4, MAGENTA),
                   (4567.8, 4574.8, BROWN), (4591.0, 4596.2, MAGENTA), (4649.1, 4661.6, MAGENTA),
                   (4699.2, 4705.3, MAGENTA)]
TOP_RANGE = (0.667, 4.91)
BOTTOM_RANGE = (0.497, 4.74)
TOP_LABEL_Y = 4.965
BOTTOM_LABEL_Y = 0.436

# ---------------- axes ----------------
X_DOMAIN = [4041, 4748]
Y_DOMAIN = [-0.103, 5.478]
W, H = 1170, 1518
X_MAJOR = list(range(4100, 4701, 100))
X_MINOR = [v for v in range(4060, 4741, 20) if v % 100]
Y_MAJOR = [0, 1, 2, 3, 4, 5]
Y_MINOR = [round(i * 0.2, 1) for i in range(1, 28) if i % 5]
TICK_COLOR = "#555555"
X_TITLE = "Wavelength (\u00c5)"
ID_FONT_SIZE = 15.5

XS = alt.Scale(domain=X_DOMAIN, nice=False, zero=False)
YS = alt.Scale(domain=Y_DOMAIN, nice=False, zero=False)

XAXIS = alt.Axis(values=X_MAJOR, format="d", ticks=False, domain=False, grid=False,
                 labelFontSize=21, labelPadding=16, labelColor="black", labelFont=FONT,
                 titleFontSize=22, titleFontWeight="normal", titlePadding=9,
                 titleColor="black", titleFont=FONT)
YAXIS = alt.Axis(values=Y_MAJOR, format="d", ticks=False, domain=False, grid=False,
                 labelFontSize=21, labelPadding=6, labelColor="black", labelFont=FONT)


def X(field):
    return alt.X(field, type="quantitative", scale=XS, axis=XAXIS, title=X_TITLE)


def Y(field):
    return alt.Y(field, type="quantitative", scale=YS, axis=YAXIS, title=None)


# ---------------- build tables ----------------
spec_rows = []
for k, (sp, off) in enumerate(zip(SPECTRA, OFFSETS)):
    for w, f in sp:
        spec_rows.append({"wl": w, "flux": f + off, "star": k})
spec_df = pd.DataFrame(spec_rows)

SP_ARR = [(np.array([p[0] for p in sp]), np.array([p[1] for p in sp]) + off)
          for sp, off in zip(SPECTRA, OFFSETS)]


def visible_segments(lam, bottom, top, margin=0.04, half=1.5):
    blocks = []
    xs = np.linspace(lam - half, lam + half, 9)
    for wl, fl in SP_ARR:
        f = np.interp(xs, wl, fl)
        blocks.append((f.min() - margin, f.max() + margin))
    blocks.sort()
    out, cur = [], bottom
    for lo, hi in blocks:
        if hi <= cur:
            continue
        if lo >= top:
            break
        if lo > cur:
            out.append((cur, lo))
        cur = max(cur, hi)
    if cur < top:
        out.append((cur, top))
    return out


seg_rows = []
for ids, (lo, hi) in ((TOP_IDS, TOP_RANGE), (BOTTOM_IDS, BOTTOM_RANGE)):
    for _, col, lines, _ in ids:
        for lam in lines:
            for a, b in visible_segments(lam, lo, hi):
                seg_rows.append({"x": lam, "y": a, "y2": b, "col": col})
seg_df = pd.DataFrame(seg_rows)

br_rows = [{"x": a, "x2": b, "y": TOP_RANGE[1], "col": c} for a, b, c in TOP_BRACKETS]
br_rows += [{"x": a, "x2": b, "y": BOTTOM_RANGE[0], "col": c} for a, b, c in BOTTOM_BRACKETS]
br_df = pd.DataFrame(br_rows)

SEP = "\u00a0\u00a0\u00a0"
star_df = pd.DataFrame({
    "x": [STAR_LABEL_X] * 8,
    "y": [o + 1.12 for o in OFFSETS],
    "label": [n + SEP + t for n, t in zip(STAR_NAMES, STAR_TYPES)],
})
box_df = pd.DataFrame({
    "x": [STAR_LABEL_X - 3] * 8,
    "x2": [e + 1 for e in STAR_LABEL_END],
    "y": [o + 1.12 - 0.075 for o in OFFSETS],
    "y2": [o + 1.12 + 0.085 for o in OFFSETS],
})
top_df = pd.DataFrame({"label": [t[0] for t in TOP_IDS], "col": [t[1] for t in TOP_IDS],
                       "x": [t[3] for t in TOP_IDS], "y": [TOP_LABEL_Y] * len(TOP_IDS)})
bot_df = pd.DataFrame({"label": [t[0] for t in BOTTOM_IDS], "col": [t[1] for t in BOTTOM_IDS],
                       "x": [t[3] for t in BOTTOM_IDS], "y": [BOTTOM_LABEL_Y] * len(BOTTOM_IDS)})

# ---------------- layers ----------------
rules = alt.Chart(seg_df).mark_rule(strokeDash=[2.2, 4.4], strokeWidth=1, opacity=0.85).encode(
    x=X("x"), y=Y("y"), y2="y2:Q", color=alt.Color("col:N", scale=None))

brackets = alt.Chart(br_df).mark_rule(strokeWidth=1.2).encode(
    x=X("x"), x2="x2:Q", y=Y("y"), color=alt.Color("col:N", scale=None))

boxes = alt.Chart(box_df).mark_rect(color="white").encode(
    x=X("x"), x2="x2:Q", y=Y("y"), y2="y2:Q")


def xticks(vals, length, top):
    y0, y1 = (0, length) if top else (H, H - length)
    return alt.Chart(pd.DataFrame({"x": vals})).mark_rule(color=TICK_COLOR, strokeWidth=1).encode(
        x=X("x"), y=alt.value(y0), y2=alt.value(y1))


def yticks(vals, length, right):
    x0, x1 = (W, W - length) if right else (0, length)
    return alt.Chart(pd.DataFrame({"y": vals})).mark_rule(color=TICK_COLOR, strokeWidth=1).encode(
        y=Y("y"), x=alt.value(x0), x2=alt.value(x1))


ticks = [xticks(X_MAJOR, 28, False), xticks(X_MINOR, 14, False),
         xticks(X_MAJOR, 28, True), xticks(X_MINOR, 14, True),
         yticks(Y_MAJOR, 27, False), yticks(Y_MINOR, 14, False),
         yticks(Y_MAJOR, 27, True), yticks(Y_MINOR, 14, True)]

spectra = alt.Chart(spec_df).mark_line(color="#2a2a2a", strokeWidth=1.1, clip=True).encode(
    x=X("wl"), y=Y("flux"), detail="star:N")

star_labels = alt.Chart(star_df).mark_text(align="left", baseline="middle", fontSize=15,
                                           font=FONT, color="black").encode(
    x=X("x"), y=Y("y"), text="label:N")

top_labels = alt.Chart(top_df).mark_text(angle=270, align="left", baseline="alphabetic",
                                         fontSize=ID_FONT_SIZE, font=FONT).encode(
    x=X("x"), y=Y("y"), text="label:N", color=alt.Color("col:N", scale=None))

bottom_labels = alt.Chart(bot_df).mark_text(angle=270, align="right", baseline="alphabetic",
                                            fontSize=ID_FONT_SIZE, font=FONT).encode(
    x=X("x"), y=Y("y"), text="label:N", color=alt.Color("col:N", scale=None))

chart = alt.layer(rules, brackets, boxes, *ticks, spectra, star_labels, top_labels, bottom_labels).properties(
    width=W, height=H,
    padding={"left": 19, "top": 0, "right": 0, "bottom": 66},
    autosize=alt.AutoSizeParams(type="none"),
    background="white",
).configure_view(stroke="#555555", strokeWidth=1.3)

chart.save("out.html", embed_options={"renderer": "svg", "actions": False})
